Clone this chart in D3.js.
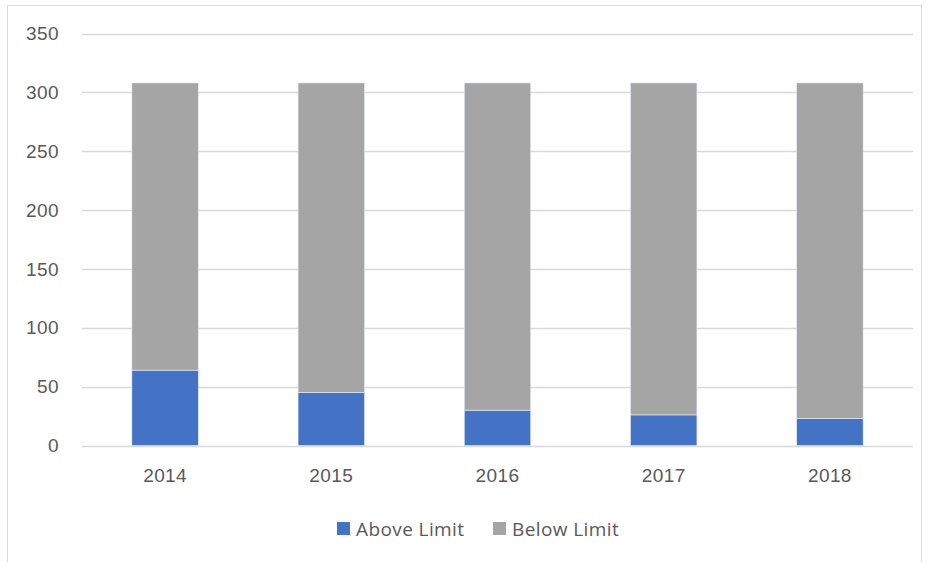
<!DOCTYPE html>
<html>
<head>
<meta charset="utf-8">
<script src="https://cdn.jsdelivr.net/npm/d3@7"></script>
<style>
  html, body { margin: 0; padding: 0; background: #fff; }
  svg { display: block; font-family: "Open Sans", "Liberation Sans", sans-serif; }
</style>
</head>
<body>
<svg id="chart" width="930" height="562"></svg>
<script>
const years = ["2014", "2015", "2016", "2017", "2018"];
const aboveLimit = [64, 45, 30, 26, 23];
const belowLimit = [244, 263, 278, 282, 285];
const yTicks = [0, 50, 100, 150, 200, 250, 300, 350];
const seriesNames = ["Above Limit", "Below Limit"];
const colors = ["#4472c4", "#a5a5a5"];

const svg = d3.select("#chart");
const margin = { top: 33.5, left: 82, right: 17, bottom: 116.5 };
const width = +svg.attr("width");
const height = +svg.attr("height");

// outer chart frame
svg.append("rect")
  .attr("x", 7.5).attr("y", 5.5)
  .attr("width", 914).attr("height", 560)
  .attr("fill", "none")
  .attr("stroke", "#d9d9d9");

const x = d3.scaleBand()
  .domain(years)
  .range([margin.left, width - margin.right])
  .paddingInner(0.6)
  .paddingOuter(0.3);

const y = d3.scaleLinear()
  .domain([0, 350])
  .range([height - margin.bottom, margin.top]);

// gridlines
svg.append("g")
  .selectAll("line")
  .data(yTicks)
  .enter().append("line")
  .attr("x1", margin.left)
  .attr("x2", width - margin.right)
  .attr("y1", d => Math.round(y(d)) + 0.5)
  .attr("y2", d => Math.round(y(d)) + 0.5)
  .attr("stroke", "#d9d9d9")
  .attr("stroke-width", 1.3);

// y axis labels
const yAxis = svg.append("g")
  .attr("transform", `translate(${margin.left},0)`)
  .call(d3.axisLeft(y).tickValues(yTicks).tickSize(0).tickPadding(23));
yAxis.select(".domain").remove();
yAxis.selectAll("text")
  .attr("fill", "#595959")
  .style("font-size", "19px")
  .style("letter-spacing", "0.4px");

// x axis labels
const xAxis = svg.append("g")
  .attr("transform", `translate(0,${y(0)})`)
  .call(d3.axisBottom(x).tickSize(0).tickPadding(23));
xAxis.select(".domain").remove();
xAxis.selectAll("text")
  .attr("fill", "#595959")
  .style("font-size", "19px")
  .style("letter-spacing", "0.4px");

// stacked bars
const rows = years.map((yr, i) => ({ year: yr, above: aboveLimit[i], below: belowLimit[i] }));
const stack = d3.stack().keys(["above", "below"])(rows);

svg.append("g")
  .selectAll("g")
  .data(stack)
  .enter().append("g")
  .attr("fill", (d, i) => colors[i])
  .selectAll("rect")
  .data(d => d)
  .enter().append("rect")
  .attr("x", d => x(d.data.year))
  .attr("y", d => y(d[1]))
  .attr("width", x.bandwidth())
  .attr("height", d => y(d[0]) - y(d[1]))
  .attr("stroke", "#e8eef8")
  .attr("stroke-width", 0.6);

// legend
const legend = svg.append("g").attr("transform", "translate(337,522)");
const lx = [0, 156];
seriesNames.forEach((name, i) => {
  legend.append("rect")
    .attr("x", lx[i]).attr("y", 0)
    .attr("width", 13).attr("height", 13)
    .attr("fill", colors[i]);
  legend.append("text")
    .attr("x", lx[i] + 19).attr("y", 13.5)
    .attr("fill", "#595959")
    .style("font-size", "19px")
    .style("letter-spacing", "0.4px")
    .text(name);
});
</script>
</body>
</html>
